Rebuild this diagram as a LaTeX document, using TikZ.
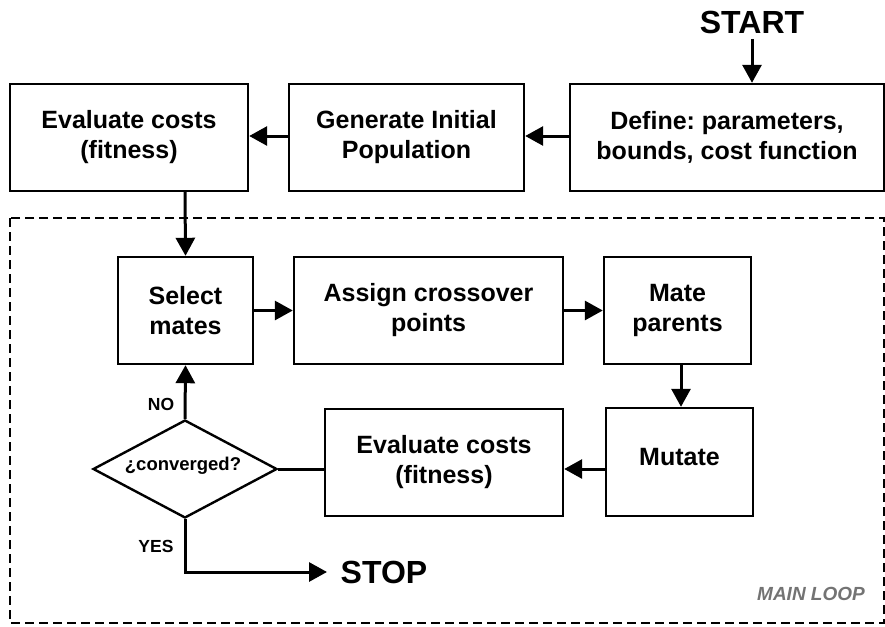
\documentclass[tikz,border=0pt]{standalone}
\usepackage{fontspec}
\setmainfont{Liberation Sans}
\usetikzlibrary{arrows.meta,shapes.geometric}
\frenchspacing
\tikzset{
  box/.style={draw=black,line width=2.4pt,align=center,font=\bfseries\fontsize{25}{30}\selectfont,inner sep=0pt},
  conn/.style={line width=3pt,-{Triangle[length=18pt,width=19pt]}},
  plain/.style={line width=3pt},
  lbl/.style={font=\bfseries\fontsize{17.5}{19}\selectfont},
  big/.style={font=\bfseries\fontsize{32}{35}\selectfont},
}
\begin{document}
\begin{tikzpicture}[x=1pt,y=-1pt]
\useasboundingbox (0,0) rectangle (885,626);
% main loop frame
\draw[line width=2.2pt,dash pattern=on 9pt off 5pt] (10,218) rectangle (884,623);
% top row
\node[box,minimum width=238pt,minimum height=107pt] (eval1) at (129,137.5) {Evaluate costs\\(fitness)};
\node[box,minimum width=235pt,minimum height=107pt] (gen) at (406.5,137.5) {Generate Initial\\Population};
\node[box,minimum width=314pt,minimum height=107pt] (def) at (727,137.5) {Define: parameters,\\bounds, cost function};
\node[big] (start) at (752,22) {START};
% loop row 1
\node[box,minimum width=135pt,minimum height=107pt] (sel) at (185.5,310.5) {Select\\mates};
\node[box,minimum width=269pt,minimum height=107pt] (ass) at (428.5,310.5) {Assign crossover\\points};
\node[box,minimum width=147pt,minimum height=107pt] (mate) at (677.5,310.5) {Mate\\parents};
% loop row 2
\node[box,minimum width=147pt,minimum height=108pt] (mut) at (679.5,462) {};
\node[font=\bfseries\fontsize{25}{30}\selectfont] (muttext) at (679.5,457) {Mutate};
\node[box,minimum width=238pt,minimum height=107pt] (eval2) at (444,462.5) {Evaluate costs\\(fitness)};
\node[draw,diamond,line width=2.4pt,minimum width=184pt,minimum height=98pt,inner sep=0pt,aspect=1.88] (conv) at (185,469) {};
\node[font=\bfseries\fontsize{18.5}{20}\selectfont] (convtext) at (183,466) {¿converged?};
\node[big] (stop) at (384,572) {STOP};
\node[lbl] (no) at (161,404) {NO};
\node[lbl] (yes) at (156,546) {YES};
\node[font=\bfseries\itshape\fontsize{19}{21}\selectfont,text=black!55] (mainloop) at (811,594) {MAIN LOOP};
% connectors
\draw[conn] (start.south) ++(0,2) -- (def.north -| start);
\draw[conn] (def.west |- 0,136) -- (gen.east |- 0,136);
\draw[conn] (gen.west |- 0,136) -- (eval1.east |- 0,136);
\draw[conn] (eval1.south -| 185,0) -- (sel.north);
\draw[conn] (sel.east) -- (ass.west);
\draw[conn] (ass.east) -- (mate.west);
\draw[conn] (mate.south -| 681,0) -- (mut.north -| 681,0);
\draw[conn] (mut.west |- 0,469) -- (eval2.east |- 0,469);
\draw[plain] (eval2.west |- 0,469) -- (conv.east);
\draw[conn] (conv.north) -- (sel.south);
\coordinate (stopin) at (327,572);
\draw[conn] (conv.south) |- (stopin);
\end{tikzpicture}
\end{document}
